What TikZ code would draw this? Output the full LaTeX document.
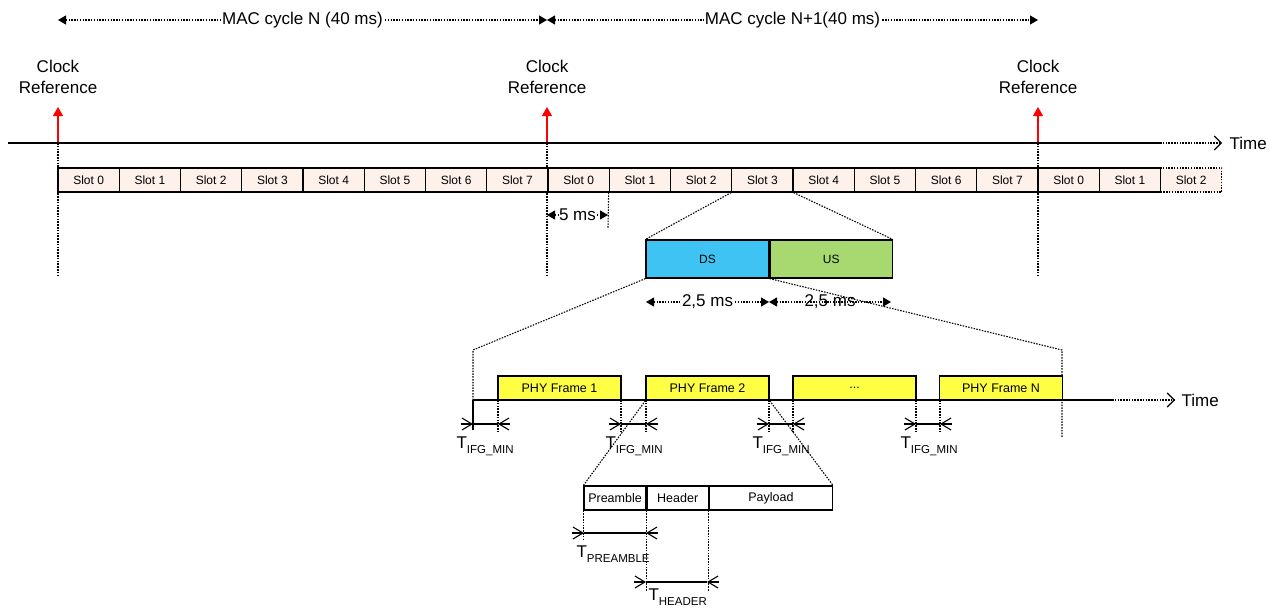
\documentclass[tikz,border=0pt]{standalone}
\usepackage{fontspec}
\setmainfont{Liberation Sans}
\usetikzlibrary{arrows.meta}
\definecolor{slotfill}{HTML}{FDF1E9}
\definecolor{dscol}{HTML}{3FC3F2}
\definecolor{uscol}{HTML}{A8D870}
\definecolor{phycol}{HTML}{FFFF44}
\newcommand\bigf{\fontsize{17}{21}\selectfont}
\newcommand\slotf{\fontsize{12}{14}\selectfont}
\newcommand\smf{\fontsize{12.5}{14}\selectfont}
\newcommand\Tlab[1]{T\raisebox{-5pt}{\fontsize{11.5}{12}\selectfont #1}}
\newcommand\dimout[3]{%
  \draw[-{Straight Barb[length=10pt,width=12pt,line width=1.1pt]}] ({#1-12},#3) -- (#1,#3);
  \draw (#1,#3) -- (#2,#3);
  \draw[-{Straight Barb[length=10pt,width=12pt,line width=1.1pt]}] ({#2+12},#3) -- (#2,#3);}
\begin{document}
\begin{tikzpicture}[x=1pt,y=-1pt, line width=1.1pt,
  dots/.style={line width=1.1pt, dash pattern=on 1.5pt off 1.3pt},
  dimarr/.style={dots, {Triangle[length=8pt,width=9pt]}-{Triangle[length=8pt,width=9pt]}},
  slot/.style={draw, line width=1.2pt, fill=slotfill, minimum width=61.25pt, minimum height=24pt, inner sep=0pt, font=\slotf},
  box/.style={draw, line width=1.2pt, minimum height=38pt, inner sep=0pt, font=\slotf},
  phy/.style={draw, line width=1.2pt, fill=phycol, minimum width=123pt, minimum height=24pt, inner sep=0pt, font=\smf},
  pkt/.style={draw, line width=1.2pt, fill=white, minimum height=24pt, inner sep=0pt, font=\smf},
  lbl/.style={font=\bigf, inner sep=1pt},
  clk/.style={red, line width=1.2pt, -{Triangle[length=9pt,width=10pt]}},
  tline/.style={line width=1.3pt}]
\useasboundingbox (0,0) rectangle (1269,608);

% MAC cycle dimensions
\coordinate (m0) at (58,20);
\coordinate (m1) at (547,20);
\coordinate (m2) at (1038,20);
\draw[dimarr] (m0) -- (m1) node[midway, fill=white, lbl] (macn) {MAC cycle N (40 ms)};
\draw[dimarr] (m1) -- (m2) node[midway, fill=white, lbl] (macn1) {MAC cycle N+1(40 ms)};

% Clock references
\foreach \x/\n in {58/0, 547/1, 1038/2} {
  \node[lbl, align=center] (ck\n) at (\x,77) {Clock\\Reference};
  \coordinate (cb\n) at (\x,143);
  \coordinate (ct\n) at (\x,107);
  \coordinate (cd\n) at (\x,275);
  \draw[dots] (cb\n) -- (cd\n);
  \draw[clk] (cb\n) -- (ct\n);
}

% top timeline
\coordinate (tl0) at (8,143);
\coordinate (tl1) at (1160,143);
\coordinate (tl2) at (1222,143);
\draw[tline] (tl0) -- (tl1);
\draw[dots, -{Straight Barb[length=7pt,width=14pt,line width=1.1pt]}] (tl1) -- (tl2);
\node[lbl, anchor=west] (time1) at (1228,143) {Time};

% slots
\foreach \i in {0,...,17} {
  \pgfmathtruncatemacro\lab{mod(\i,8)}
  \node[slot] (s\i) at ({58+61.25*(\i+0.5)},180) {Slot \lab};
}
\node[slot, dots, line width=1.2pt] (s18) at ({58+61.25*18.5},180) {Slot 2};

% 5 ms
\coordinate (f0) at (547,215);
\coordinate (f1) at (608,215);
\coordinate (fv) at (608,228);
\draw[dots] (s9.south west) -- (fv);
\draw[dimarr] (f0) -- (f1) node[midway, fill=white, lbl, inner sep=0.5pt] (fivems) {5 ms};

% DS / US
\node[box, fill=dscol, minimum width=123pt] (ds) at (707.5,259) {DS};
\node[box, fill=uscol, minimum width=122pt, anchor=west] (us) at (ds.east) {US};
\draw[dots] (s11.south west) -- (ds.north west);
\draw[dots] (s11.south east) -- (us.north east);

% expansion to PHY frames
\coordinate (e0) at (473,350);
\coordinate (e1) at (1062,350);
\coordinate (e0b) at (473,400);
\coordinate (e0c) at (473,430);
\coordinate (e1b) at (1062,438);
\draw[dots] (ds.south west) -- (e0) -- (e0b);
\draw[dots] (ds.south east) -- (e1) -- (e1b);

% 2,5 ms
\coordinate (h0) at (646,302);
\coordinate (h1) at (769,302);
\coordinate (h2) at (891,302);
\draw[dimarr] (h0) -- (h1) node[midway, fill=white, lbl, inner sep=0.5pt] (ha) {2,5 ms};
\draw[dimarr] (h1) -- (h2) node[midway, lbl, inner sep=0.5pt] (hb) {2,5 ms};

% PHY frames
\node[phy] (p1) at (559.5,388) {PHY Frame 1};
\node[phy] (p2) at (707.5,388) {PHY Frame 2};
\node[phy] (p3) at (854.5,388) {...};
\node[phy] (pn) at (1001,388) {PHY Frame N};

% PHY timeline
\coordinate (pt1) at (1112,400);
\coordinate (pt2) at (1175,400);
\draw[tline] (e0b) -- (pt1);
\draw[tline] (e0b) -- (e0c);
\draw[dots, -{Straight Barb[length=7pt,width=14pt,line width=1.1pt]}] (pt1) -- (pt2);
\node[lbl, anchor=west] (time2) at (1180,400) {Time};

% IFG verticals
\foreach \x in {498,621,646,769,793,916,940} {
  \draw[dots] (\x,400) -- (\x,432);
}
\dimout{473}{498}{424}
\dimout{621}{646}{424}
\dimout{769}{793}{424}
\dimout{916}{940}{424}
\node[lbl, anchor=base west, inner sep=0pt] (ifg1) at (456,448) {\Tlab{IFG\_MIN}};
\node[lbl, anchor=base west, inner sep=0pt] (ifg2) at (605,448) {\Tlab{IFG\_MIN}};
\node[lbl, anchor=base west, inner sep=0pt] (ifg3) at (752,448) {\Tlab{IFG\_MIN}};
\node[lbl, anchor=base west, inner sep=0pt] (ifg4) at (900,448) {\Tlab{IFG\_MIN}};

% packet
\node[pkt, minimum width=62pt] (pre) at (615,498) {Preamble};
\node[pkt, minimum width=61pt, anchor=west] (hdr) at (pre.east) {Header};
\node[pkt, minimum width=123pt, anchor=west] (pay) at (hdr.east) {Payload};
\draw[dots] (p2.south west) -- (pre.north west);
\draw[dots] (p2.south east) -- (pay.north east);

\draw[dots] (pre.south west) -- ++(0,30);
\draw[dots] (pre.south east) -- ++(0,80);
\draw[dots] (hdr.south east) -- ++(0,80);
\dimout{584}{646}{533}
\dimout{646}{707}{582}
\node[lbl, anchor=base west, inner sep=0pt] (tpre) at (576,557) {\Tlab{PREAMBLE}};
\node[lbl, anchor=base west, inner sep=0pt] (thdr) at (648,600) {\Tlab{HEADER}};
\end{tikzpicture}
\end{document}
